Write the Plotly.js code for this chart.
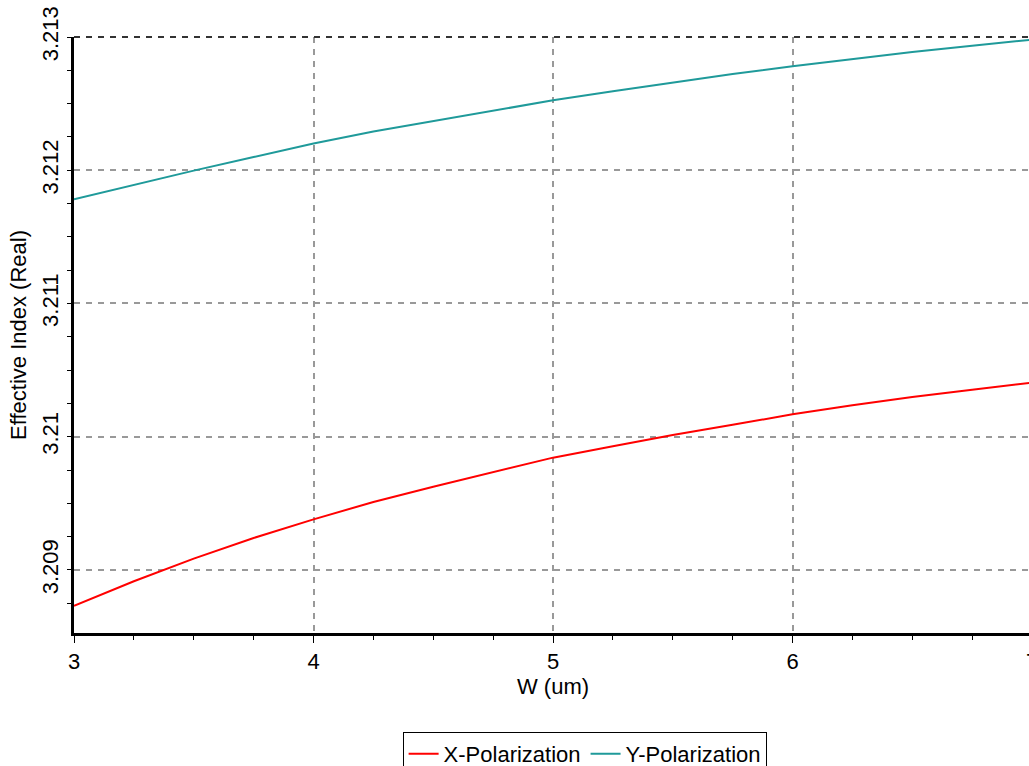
<!DOCTYPE html>
<html>
<head>
<meta charset="utf-8">
<script src="https://cdn.plot.ly/plotly-3.0.1.min.js"></script>
<style>
html,body{margin:0;padding:0;overflow:hidden;background:#fff;}
#chart{width:1035px;height:780px;}
</style>
</head>
<body>
<div id="chart"></div>
<script>
const widthUm = [3.0,3.25,3.5,3.75,4.0,4.25,4.5,4.75,5.0,5.25,5.5,5.75,6.0,6.25,6.5,6.75,7.0];
const xPol = [3.208730,3.208915,3.209085,3.209240,3.209380,3.209510,3.209625,3.209735,3.209843,3.209928,3.210013,3.210090,3.210168,3.210236,3.210298,3.210352,3.210406];
const yPol = [3.211782,3.211890,3.211997,3.212099,3.212200,3.212290,3.212370,3.212448,3.212525,3.212593,3.212660,3.212722,3.212780,3.212836,3.212888,3.212935,3.212980];
const yTickVals = [3.209,3.210,3.211,3.212,3.213];
const yTickText = ["3.209","3.21","3.211","3.212","3.213"];
const xTickVals = [3,4,5,6,7];
const xTickText = ["3","4","5","6","7"];

const font = {family:"Liberation Sans, Arial, sans-serif", size:22, color:"#000"};

const traces = [
  {x:widthUm, y:xPol, type:"scatter", mode:"lines", name:"X-Polarization", line:{color:"#ff0000", width:2}},
  {x:widthUm, y:yPol, type:"scatter", mode:"lines", name:"Y-Polarization", line:{color:"#1f9a9a", width:2}}
];

const layout = {
  width:1035, height:780,
  margin:{l:74, r:3, t:37, b:147},
  paper_bgcolor:"#fff", plot_bgcolor:"#fff",
  font:font,
  showlegend:true,
  legend:{orientation:"h", x:0.533, xanchor:"center", y:-0.166, yanchor:"top",
          bordercolor:"#000", borderwidth:1, font:font, itemwidth:30, bgcolor:"#fff",
          tracegroupgap:0, itemclick:false},
  xaxis:{range:[3,7], tickvals:xTickVals, ticktext:xTickText,
         showline:true, linecolor:"#000", linewidth:3,
         ticks:"outside", ticklen:7, tickwidth:1, tickcolor:"#000",
         minor:{dtick:0.25, tick0:3, ticks:"outside", ticklen:4, tickcolor:"#000", showgrid:false},
         showgrid:true, gridcolor:"#999", gridwidth:2, griddash:"6px,6px",
         zeroline:false, tickfont:font, automargin:false, ticklabeloverflow:"allow",
         title:{text:"W (um)", font:font, standoff:4}},
  yaxis:{range:[3.208527,3.213], tickvals:yTickVals, ticktext:yTickText, tickangle:-90,
         showline:true, linecolor:"#000", linewidth:3,
         ticks:"outside", ticklen:4, tickwidth:1, tickcolor:"#000",
         minor:{dtick:0.00025, tick0:3.209, ticks:"outside", ticklen:4, tickcolor:"#000", showgrid:false},
         showgrid:true, gridcolor:"#999", gridwidth:2, griddash:"6px,6px",
         zeroline:false, tickfont:font, automargin:false,
         title:{text:"Effective Index (Real)", font:font, standoff:6}},
  shapes:[{type:"line", xref:"paper", yref:"paper", x0:0, x1:1, y0:1, y1:1,
           line:{color:"#333", width:2, dash:"6px,6px"}}]
};

Plotly.newPlot("chart", traces, layout, {displayModeBar:false, staticPlot:true});
</script>
</body>
</html>
